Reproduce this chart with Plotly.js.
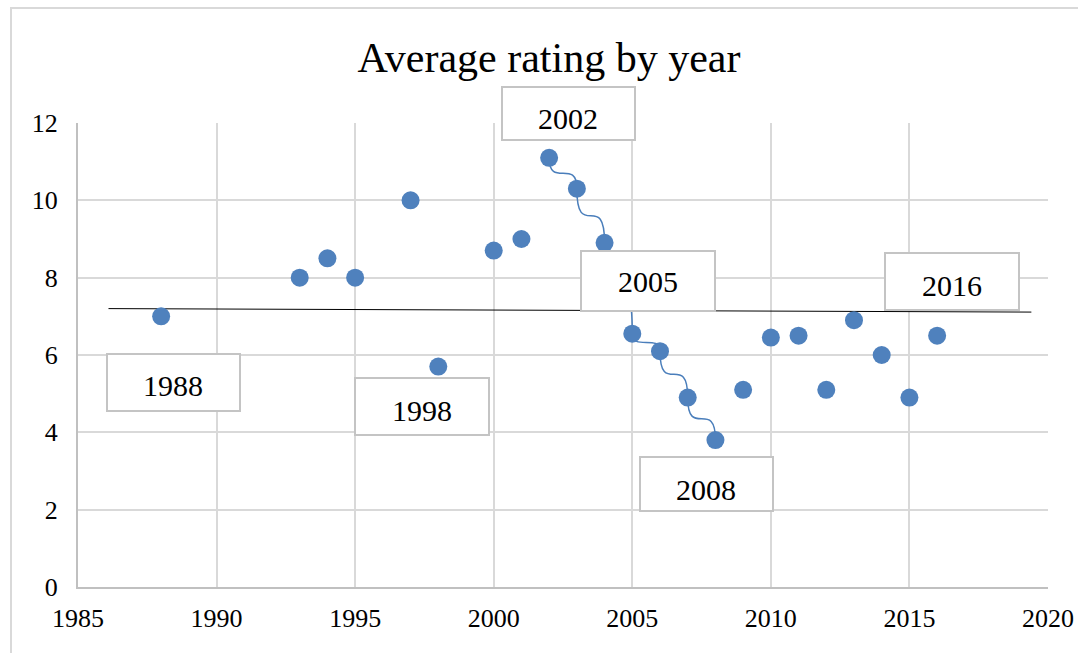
<!DOCTYPE html>
<html>
<head>
<meta charset="utf-8">
<script src="https://cdn.plot.ly/plotly-3.0.1.min.js"></script>
<style>
  html, body { margin: 0; padding: 0; background: #ffffff; overflow: hidden; }
  #wrap { position: relative; width: 1078px; height: 653px; overflow: hidden; }
  #chart { position: absolute; left: 0; top: 0; width: 1078px; height: 653px; }
  #frame { position: absolute; left: 10px; top: 7px; width: 2000px; height: 2000px;
           border-left: 2px solid #d9d9d9; border-top: 2px solid #d9d9d9; pointer-events: none; }
</style>
</head>
<body>
<div id="wrap">
  <div id="chart"></div>
  <div id="frame"></div>
</div>
<script>
// ---- data ----
const years   = [1988, 1993, 1994, 1995, 1997, 1998, 2000, 2001, 2002, 2003, 2004, 2005,
                 2006, 2007, 2008, 2009, 2010, 2011, 2012, 2013, 2014, 2015, 2016];
const ratings = [7.0, 8.0, 8.5, 8.0, 10.0, 5.7, 8.7, 9.0, 11.1, 10.3, 8.9, 6.55,
                 6.1, 4.9, 3.8, 5.1, 6.45, 6.5, 5.1, 6.9, 6.0, 4.9, 6.5];
const highlightFrom = 2002;
const highlightTo   = 2008;
const trendX = [1986.1, 2019.4];
const trendY = [7.2, 7.11];
const labelYears = [1988, 1998, 2002, 2005, 2008, 2016];
const xTickVals = [1985, 1990, 1995, 2000, 2005, 2010, 2015, 2020];
const yTickVals = [0, 2, 4, 6, 8, 10, 12];

// ---- styling / layout of label boxes (pixel offsets from the labelled point) ----
const labelStyle = {
  1988: {dx: 12,  dy: -66, w: 131, h: 55, tdy: -3},
  1998: {dx: -16, dy: -40, w: 132, h: 55, tdy: -4},
  2002: {dx: 19,  dy: 44,  w: 131, h: 51, tdy: -5},
  2005: {dx: 16,  dy: 53,  w: 132, h: 58, tdy: -1},
  2008: {dx: -9,  dy: -44, w: 131, h: 52, tdy: -5},
  2016: {dx: 15,  dy: 54,  w: 132, h: 55, tdy: -4}
};

const SERIF = '"Liberation Serif", "Times New Roman", serif';
const BLUE = '#4f81bd';

function valueOf(yr) { return ratings[years.indexOf(yr)]; }

// curvy connector through the highlighted run, built from the data points
const hx = [], hy = [];
years.forEach((y, i) => { if (y >= highlightFrom && y <= highlightTo) { hx.push(y); hy.push(ratings[i]); } });
let path = 'M ' + hx[0] + ',' + hy[0];
for (let i = 1; i < hx.length; i++) {
  path += ' C ' + hx[i-1] + ',' + hy[i] + ' ' + hx[i] + ',' + hy[i-1] + ' ' + hx[i] + ',' + hy[i];
}

const traces = [
  {
    x: trendX, y: trendY, type: 'scatter', mode: 'lines',
    line: {color: '#000000', width: 1}, hoverinfo: 'skip', showlegend: false
  },
  {
    x: years, y: ratings, type: 'scatter', mode: 'markers',
    marker: {color: BLUE, size: 18}, showlegend: false
  }
];

const annotations = [];
labelYears.forEach(yr => {
  const s = labelStyle[yr];
  // the box
  annotations.push({
    x: yr, y: valueOf(yr), xref: 'x', yref: 'y',
    text: ' ', showarrow: false,
    xshift: s.dx, yshift: s.dy, width: s.w, height: s.h,
    bgcolor: '#ffffff', bordercolor: '#c4c4c4', borderwidth: 2, borderpad: 0,
    font: {family: SERIF, size: 30, color: '#000000'}
  });
  // the text inside it
  annotations.push({
    x: yr, y: valueOf(yr), xref: 'x', yref: 'y',
    text: String(yr), showarrow: false,
    xshift: s.dx, yshift: s.dy + s.tdy,
    font: {family: SERIF, size: 30, color: '#000000'}
  });
});

const layout = {
  width: 1078, height: 653,
  margin: {l: 78, r: 30, t: 123, b: 66, pad: 0},
  paper_bgcolor: 'rgba(0,0,0,0)', plot_bgcolor: '#ffffff',
  showlegend: false,
  title: {
    text: 'Average rating by year',
    font: {family: SERIF, size: 42, color: '#000000'},
    xref: 'container', yref: 'container',
    x: 549 / 1078, xanchor: 'center',
    y: 1 - 57 / 653, yanchor: 'middle'
  },
  xaxis: {
    range: [1985, 2020], tickvals: xTickVals, ticktext: xTickVals.map(String),
    showgrid: true, gridcolor: '#d9d9d9', gridwidth: 2,
    showline: true, linecolor: '#c0c0c0', linewidth: 2,
    zeroline: false, ticks: '', ticklabelstandoff: 7,
    tickfont: {family: SERIF, size: 26, color: '#000000'}
  },
  yaxis: {
    range: [0, 12], tickvals: yTickVals, ticktext: yTickVals.map(String),
    showgrid: true, gridcolor: '#d9d9d9', gridwidth: 2,
    showline: true, linecolor: '#c0c0c0', linewidth: 2,
    zeroline: false, ticks: '', ticklabelstandoff: 13,
    tickfont: {family: SERIF, size: 26, color: '#000000'}
  },
  shapes: [{
    type: 'path', xref: 'x', yref: 'y', path: path, layer: 'between',
    line: {color: '#4a7ebb', width: 1.5}
  }],
  annotations: annotations
};

Plotly.newPlot('chart', traces, layout, {displayModeBar: false, staticPlot: true});
</script>
</body>
</html>
